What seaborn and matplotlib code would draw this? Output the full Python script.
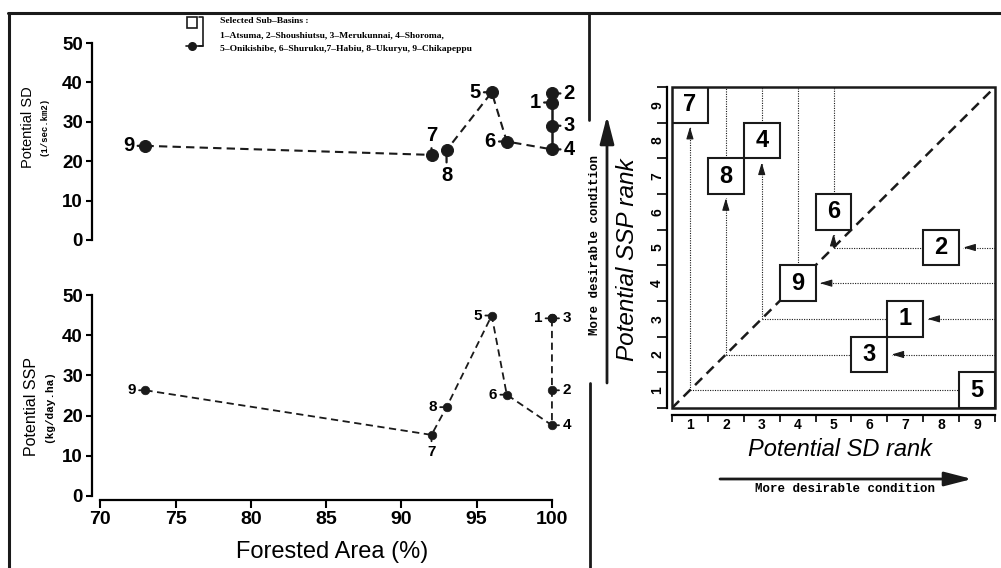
import numpy as np
import pandas as pd
import matplotlib
matplotlib.use("Agg")
import matplotlib.pyplot as plt
from matplotlib.patches import Rectangle
import seaborn as sns

# --- data ---
basins = [1, 2, 3, 4, 5, 6, 7, 8, 9]
forested = [100, 100, 100, 100, 96, 97, 92, 93, 73]          # Forested Area (%)
potential_sd = [34.9, 37.2, 29.0, 23.0, 37.5, 25.0, 21.6, 22.8, 23.9]
potential_ssp = [44.2, 26.3, 44.2, 17.6, 44.9, 25.2, 15.2, 22.1, 26.3]
sd_rank = [7, 8, 6, 3, 9, 5, 1, 2, 4]
ssp_rank = [3, 5, 2, 8, 1, 6, 9, 7, 4]

# order in which points are joined in each panel
sd_path = [9, 7, 8, 5, 6, 4, 3, 1, 2]
ssp_path = [9, 7, 8, 5, 6, 4, 2, 1, 3]

x_ticks = [70, 75, 80, 85, 90, 95, 100]
y_ticks = [0, 10, 20, 30, 40, 50]
rank_ticks = [1, 2, 3, 4, 5, 6, 7, 8, 9]

legend_lines = [
    "Selected Sub\u2013Basins :",
    "1\u2013Atsuma, 2\u2013Shoushiutsu, 3\u2013Merukunnai, 4\u2013Shoroma,",
    "5\u2013Onikishibe, 6\u2013Shuruku,7\u2013Habiu, 8\u2013Ukuryu, 9\u2013Chikapeppu",
]

# where the number label sits relative to its point
sd_label_side = {1: "left", 2: "right", 3: "right", 4: "right", 5: "left",
                 6: "left", 7: "up", 8: "down", 9: "left"}
ssp_label_side = {1: "left", 2: "right", 3: "right", 4: "right", 5: "left",
                  6: "left", 7: "down", 8: "left", 9: "left"}

df = pd.DataFrame({"basin": basins, "forested": forested,
                   "sd": potential_sd, "ssp": potential_ssp,
                   "sd_rank": sd_rank, "ssp_rank": ssp_rank}).set_index("basin")

sns.set_theme(style="ticks", rc={"axes.edgecolor": "black", "xtick.color": "black",
                                 "ytick.color": "black", "text.color": "black"})
plt.rcParams["font.family"] = ["Liberation Sans", "DejaVu Sans"]

W, H = 1001, 568
fig = plt.figure(figsize=(W / 100, H / 100), dpi=100)


def box(l, t, r, b):
    # pixel box -> figure fraction
    return [l / W, 1 - b / H, (r - l) / W, (b - t) / H]


ax_bg = fig.add_axes([0, 0, 1, 1])
ax_bg.set_xlim(0, W)
ax_bg.set_ylim(H, 0)
ax_bg.axis("off")

ax_sd = fig.add_axes(box(92, 39.1, 567, 243.9))
ax_ssp = fig.add_axes(box(92, 291, 567, 500))
ax_rank = fig.add_axes(box(672, 87, 995, 408))
for ax in (ax_sd, ax_ssp, ax_rank):
    ax.set_facecolor("none")

dash = (0, (4, 2.5))


def label_points(ax, col, side, fsize, dist, lw):
    for b in basins:
        x, y = df.loc[b, "forested"], df.loc[b, col]
        d = dist[side[b]]
        off = {"left": (-d, 0), "right": (d, 0), "up": (0, d), "down": (0, -d)}[side[b]]
        ax.annotate(str(b), xy=(x, y), xytext=off, textcoords="offset points",
                    ha="center", va="center", fontsize=fsize, fontweight="bold",
                    arrowprops=dict(arrowstyle="-", color="k", lw=lw,
                                    shrinkA=0, shrinkB=0), zorder=3)


# --- top left: potential SD ---
path = df.loc[sd_path].reset_index()
sns.lineplot(data=path.iloc[:6], x="forested", y="sd", sort=False, estimator=None,
             color="k", lw=1.5, linestyle=dash, ax=ax_sd)
sns.lineplot(data=path.iloc[5:], x="forested", y="sd", sort=False, estimator=None,
             color="k", lw=1.8, ax=ax_sd)
sns.scatterplot(data=df, x="forested", y="sd", color="k", s=75, edgecolor="k",
                zorder=4, legend=False, ax=ax_sd)
label_points(ax_sd, "sd", sd_label_side, 14.5, {"left": 12, "right": 12.5, "up": 14, "down": 18}, 1.6)

# --- bottom left: potential SSP ---
path = df.loc[ssp_path].reset_index()
sns.lineplot(data=path, x="forested", y="ssp", sort=False, estimator=None,
             color="k", lw=1.3, linestyle=dash, ax=ax_ssp)
sns.scatterplot(data=df, x="forested", y="ssp", color="k", s=38, edgecolor="k",
                zorder=4, legend=False, ax=ax_ssp)
label_points(ax_ssp, "ssp", ssp_label_side, 11, {"left": 10, "right": 10.5, "up": 12, "down": 12}, 1.3)

for ax in (ax_sd, ax_ssp):
    ax.set_xlim(69.45, 101)
    ax.set_ylim(-1, 51)
    ax.set_xlabel("")
    ax.set_ylabel("")
    ax.spines[["top", "right"]].set_visible(False)
    ax.spines["left"].set_bounds(y_ticks[0], y_ticks[-1])
    ax.spines["left"].set_linewidth(1.6)
    ax.set_yticks(y_ticks, labels=[str(v) for v in y_ticks], fontweight="bold", fontsize=13.5)
    ax.tick_params(axis="y", length=4.5, width=1.5, pad=2)

ax_sd.spines["bottom"].set_visible(False)
ax_sd.set_xticks([])
ax_ssp.spines["bottom"].set_bounds(x_ticks[0], x_ticks[-1])
ax_ssp.spines["bottom"].set_linewidth(1.6)
ax_ssp.set_xticks(x_ticks, labels=[str(v) for v in x_ticks], fontweight="bold", fontsize=14)
ax_ssp.tick_params(axis="x", length=5.8, width=1.5, pad=2)

# --- right: rank comparison ---
lo, hi = rank_ticks[0] - 0.5, rank_ticks[-1] + 0.5
ax_rank.set_xlim(lo, hi)
ax_rank.set_ylim(lo, hi)
ax_rank.plot([lo, hi], [lo, hi], color="k", lw=1.8, linestyle=dash, zorder=1)

dot = dict(color="k", lw=0.8, linestyle=(0, (1, 1.2)), zorder=1)
head = dict(arrowstyle="-|>,head_length=0.6,head_width=0.18", color="k", lw=0.8,
            shrinkA=0, shrinkB=0)
gap = 0.12
for b, sx, sy in zip(basins, sd_rank, ssp_rank):
    m = min(sx, sy)
    if sy > sx:
        tip = sy - 0.5 - gap
        ax_rank.plot([sx, sx], [m, tip], **dot)
        ax_rank.annotate("", xy=(sx, tip), xytext=(sx, tip - 0.2), arrowprops=head)
    if sy >= sx and sy < rank_ticks[-1]:
        ax_rank.plot([sx, sx], [sy + 0.5, hi], **dot)
    if sx > sy:
        ax_rank.plot([m, sx - 0.5], [sy, sy], **dot)
    if sx >= sy and sx < rank_ticks[-1]:
        tip = sx + 0.5 + gap
        ax_rank.plot([hi, tip], [sy, sy], **dot)
        ax_rank.annotate("", xy=(tip, sy), xytext=(tip + 0.2, sy), arrowprops=head)
    ax_rank.add_patch(Rectangle((sx - 0.5, sy - 0.5), 1, 1, facecolor="white",
                                edgecolor="k", lw=1.5, zorder=3))
    ax_rank.text(sx, sy, str(b), ha="center", va="center", fontsize=17,
                 fontweight="bold", zorder=4)

ax_rank.add_patch(Rectangle((0, 0), 1, 1, transform=ax_rank.transAxes, fill=False,
                            edgecolor="k", lw=1.8, clip_on=False, zorder=6))
ax_rank.spines[["top", "right"]].set_visible(False)
ax_rank.spines["left"].set_position(("outward", 3.6))
ax_rank.spines["bottom"].set_position(("outward", 5))
for s in ("left", "bottom"):
    ax_rank.spines[s].set_linewidth(1.6)
bounds = np.arange(lo, hi + 0.5, 1)
ax_rank.set_xticks(bounds, labels=[])
ax_rank.set_yticks(bounds, labels=[])
ax_rank.set_xticks(rank_ticks, labels=[str(v) for v in rank_ticks], minor=True,
                   fontweight="bold", fontsize=10)
ax_rank.set_yticks(rank_ticks, labels=[str(v) for v in rank_ticks], minor=True,
                   fontweight="bold", fontsize=10, rotation=90, va="center")
ax_rank.tick_params(which="major", axis="x", length=5, width=1.2)
ax_rank.tick_params(which="major", axis="y", length=7, width=1.2)
ax_rank.tick_params(which="minor", length=0, pad=2)

# --- frame, labels, arrows (pixel coordinates) ---
ax_bg.plot([8, W], [13, 13], color="k", lw=2.2)
ax_bg.plot([9, 9], [13, H], color="k", lw=2.2)
ax_bg.plot([589, 589], [13, 120], color="k", lw=2)
ax_bg.plot([590, 590], [383, H], color="k", lw=2)

ax_bg.text(28, 127, "Potential SD", rotation=90, ha="center", va="center", fontsize=10.5)
ax_bg.text(44, 126, "(1/sec.km2)", rotation=90, ha="center", va="center", fontsize=6.5,
           family="Liberation Mono", fontweight="bold")
ax_bg.text(32, 407, "Potential SSP", rotation=90, ha="center", va="center", fontsize=11.5)
ax_bg.text(49, 407, "(kg/day.ha)", rotation=90, ha="center", va="center", fontsize=8,
           family="Liberation Mono", fontweight="bold")
ax_bg.text(332, 552, "Forested Area (%)", ha="center", va="center", fontsize=17)

ax_bg.text(840, 450, "Potential SD rank", ha="center", va="center", fontsize=17, style="italic")
ax_bg.text(628, 260, "Potential SSP rank", rotation=90, ha="center", va="center",
           fontsize=17.5, style="italic")

big_head = dict(arrowstyle="-|>,head_length=1.4,head_width=0.36", color="k", lw=2,
                shrinkA=0, shrinkB=0)
ax_bg.annotate("", xy=(607, 116), xytext=(607, 383), arrowprops=big_head)
ax_bg.annotate("", xy=(972, 479), xytext=(720, 479), arrowprops=big_head)
ax_bg.text(595, 245, "More desirable condition", rotation=90, ha="center", va="center",
           fontsize=9, family="Liberation Mono", fontweight="bold")
ax_bg.text(845, 489, "More desirable condition", ha="center", va="center",
           fontsize=9, family="Liberation Mono", fontweight="bold")

# legend block
ax_bg.add_patch(Rectangle((187, 17), 10, 11, fill=False, edgecolor="k", lw=1.2))
ax_bg.plot([199, 203, 203, 199], [17, 17, 46, 46], color="k", lw=1.2)
ax_bg.plot([186, 203], [46, 46], color="k", lw=1.2)
ax_bg.scatter([192], [46], s=30, color="k", zorder=3)
for i, line in enumerate(legend_lines):
    ax_bg.text(220, 21 + 14 * i, line, ha="left", va="center", fontsize=6.8,
               family="Liberation Serif", fontweight="bold")

fig.savefig("out.png", dpi=100)
